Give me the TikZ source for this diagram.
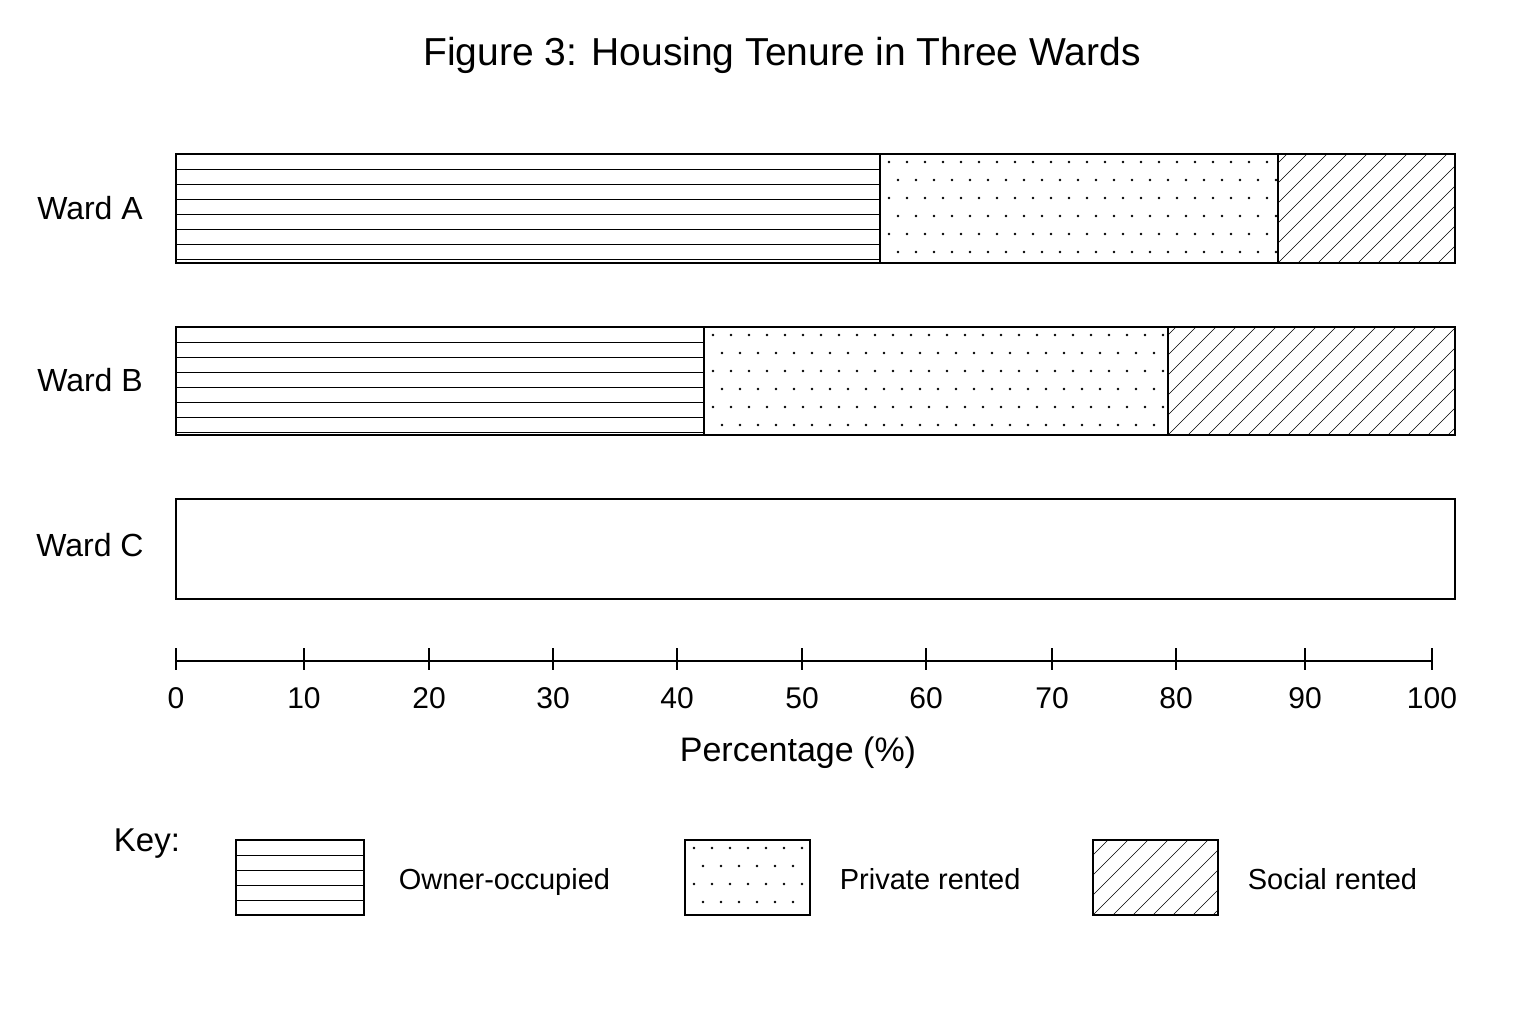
\documentclass[tikz,border=0pt]{standalone}
\usepackage{fontspec}
\setmainfont{Liberation Sans}
\newcommand\myhl[4]{\begin{scope}\clip (#1,#2) rectangle (#3,#4);
 \foreach \yy in {#2,...,#4}{\pgfmathsetmacro\r{mod(\yy-#2,15)}\ifdim\r pt=0pt \draw[thin] (#1,\yy)--(#3,\yy);\fi}\end{scope}}
\newcommand\mydots[4]{\begin{scope}\clip (#1,#2) rectangle (#3,#4);
 \foreach \xx in {0,18,...,1300}{\foreach \yy in {0,18,...,120}{\fill ({#1+9+\xx+mod(\yy,36)/2},{#2+8+\yy}) circle (1.3);}}\end{scope}}
\newcommand\myhatch[4]{\begin{scope}\clip (#1,#2) rectangle (#3,#4);
 \foreach \xx in {-140,-120,...,500}{\draw[thin] ({#1+\xx},#4)--++(140,-140);}\end{scope}}
\begin{document}
\begin{tikzpicture}[x=1pt,y=-1pt,line width=1.1pt,
 bar/.style={draw,line width=2.2pt},
 wl/.style={font=\fontsize{32}{32}\selectfont},
 tl/.style={font=\fontsize{28}{28}\selectfont},
 kl/.style={font=\fontsize{29}{29}\selectfont,anchor=base west}]
\useasboundingbox[fill=white] (0,0) rectangle (1536,1024);
\node (title) at (782,55) {\fontsize{39}{39}\selectfont Figure 3: Housing Tenure in Three Wards};
% Ward A
\myhl{176}{154}{880}{263}\mydots{880}{154}{1278}{263}\myhatch{1278}{154}{1455}{263}
\draw[line width=1.5pt] (880,154)--(880,263) (1278,154)--(1278,263);
\draw[bar] (176,154) rectangle (1455,263);
\node[wl] (wa) at (90,208) {Ward A};
% Ward B
\myhl{176}{327}{704}{435}\mydots{704}{327}{1168}{435}\myhatch{1168}{327}{1455}{435}
\draw[line width=1.5pt] (704,327)--(704,435) (1168,327)--(1168,435);
\draw[bar] (176,327) rectangle (1455,435);
\node[wl] (wb) at (90,380) {Ward B};
% Ward C
\draw[bar] (176,499) rectangle (1455,599);
\node[wl] (wc) at (90,545) {Ward C};
% axis
\draw[line width=1.8pt] (176,661)--(1432,661);
\foreach \x/\l in {176/0,304/10,429/20,553/30,677/40,802/50,926/60,1052/70,1176/80,1305/90,1432/100}{
 \draw[line width=1.8pt] (\x,648)--(\x,670);
 \node[tl,font=\fontsize{30}{30}\selectfont] at (\x,698) {\l};}
\node[tl,font=\fontsize{34}{34}\selectfont] (xt) at (798,753) {Percentage (\%)};
% key
\node[font=\fontsize{33}{33}\selectfont] (key) at (147,844) {Key:};
\myhl{236}{840}{364}{915}\draw[bar] (236,840) rectangle (364,915);
\mydots{685}{840}{810}{915}\draw[bar] (685,840) rectangle (810,915);
\myhatch{1093}{840}{1218}{915}\draw[bar] (1093,840) rectangle (1218,915);
\node[kl] at (395,889) {Owner-occupied};
\node[kl] at (836,889) {Private rented};
\node[kl] at (1244,889) {Social rented};
\end{tikzpicture}
\end{document}
